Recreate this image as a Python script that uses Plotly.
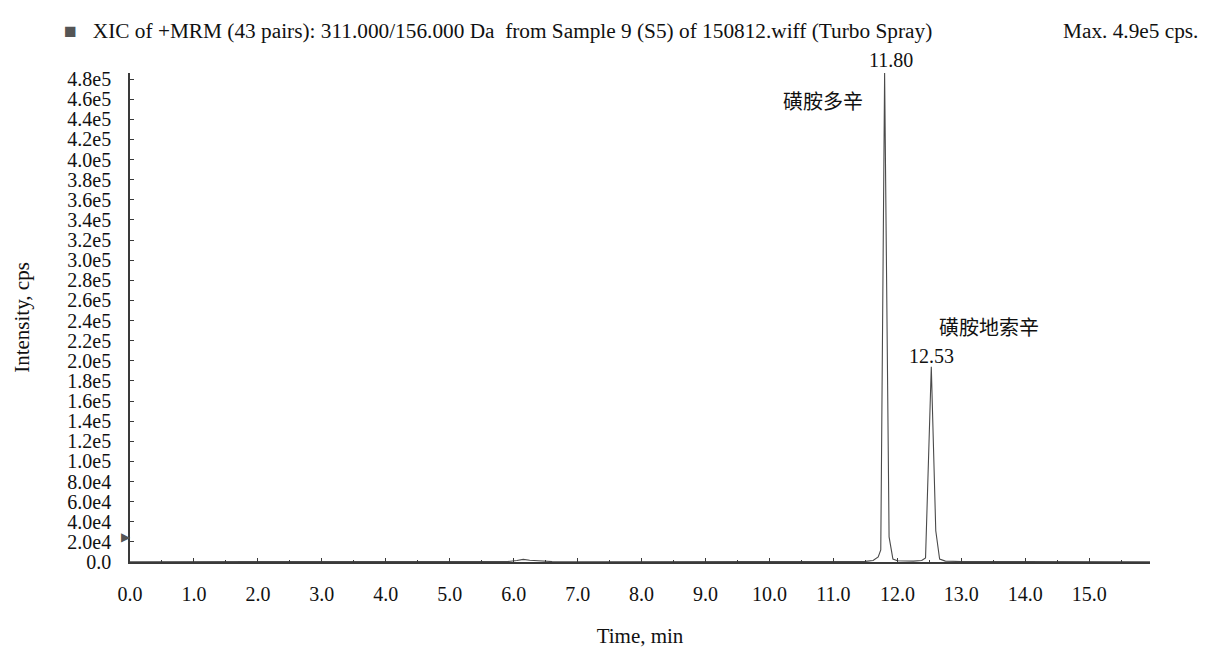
import plotly.graph_objects as go

# ---- data ----
time_min = [0.0, 1.0, 2.0, 3.0, 4.0, 5.0, 5.9, 6.05, 6.15, 6.25, 6.4, 6.6, 7.0, 8.0, 9.0, 10.0,
            11.0, 11.5, 11.62, 11.70, 11.74, 11.80, 11.87, 11.93, 12.00, 12.10, 12.25, 12.38,
            12.44, 12.53, 12.60, 12.66, 12.75, 13.0, 14.0, 15.0, 15.95]
intensity = [300, 300, 300, 300, 300, 300, 400, 1500, 2600, 1800, 900, 400, 300, 300, 300, 300,
             400, 600, 1500, 5000, 12000, 486000, 25000, 3000, 1200, 900, 900, 1500,
             4000, 194000, 31000, 3000, 900, 400, 300, 300, 300]

peak_times = [11.80, 12.53]
peak_heights = [486000, 194000]
peak_labels = ["11.80", "12.53"]
compound_names = ["磺胺多辛", "磺胺地索辛"]
threshold = 25000

y_tickvals = [i * 20000 for i in range(25)]
y_ticktext = ["0.0"] + ["%.1fe4" % (v / 1e4) for v in y_tickvals[1:5]] + \
             ["%.1fe5" % (v / 1e5) for v in y_tickvals[5:]]
x_tickvals = [float(i) for i in range(16)]
x_ticktext = ["%.1f" % v for v in x_tickvals]

title_text = "XIC of +MRM (43 pairs): 311.000/156.000 Da&nbsp;&nbsp;from Sample 9 (S5) of 150812.wiff (Turbo Spray)"
max_text = "Max. 4.9e5 cps."

SERIF = "Liberation Serif, Times New Roman, serif"
CJK = "Noto Sans CJK SC"
axis_col = "#3a3a3a"

fig = go.Figure()
fig.add_trace(go.Scatter(x=time_min, y=intensity, mode="lines",
                         line=dict(color="#4a4a4a", width=1.1), showlegend=False,
                         hoverinfo="skip"))

annotations = []
# threshold marker on the y axis
annotations.append(dict(x=0, y=threshold, text="▶", showarrow=False, xanchor="right",
                        yanchor="middle", xshift=3,
                        font=dict(family="DejaVu Sans", size=12, color="#555555")))
# peak RT labels
annotations.append(dict(x=peak_times[0], y=peak_heights[0], text=peak_labels[0], showarrow=False,
                        xanchor="center", yanchor="bottom", xshift=6, yshift=0,
                        font=dict(family=SERIF, size=20, color="#111")))
annotations.append(dict(x=peak_times[1], y=peak_heights[1], text=peak_labels[1], showarrow=False,
                        xanchor="center", yanchor="bottom", xshift=0, yshift=-2,
                        font=dict(family=SERIF, size=20, color="#111")))
# compound names
annotations.append(dict(x=peak_times[0], y=peak_heights[0], text=compound_names[0], showarrow=False,
                        xanchor="right", yanchor="middle", xshift=-20, yshift=-27,
                        font=dict(family=CJK, size=20, color="#111")))
annotations.append(dict(x=peak_times[1], y=peak_heights[1], text=compound_names[1], showarrow=False,
                        xanchor="left", yanchor="middle", xshift=6, yshift=40,
                        font=dict(family=CJK, size=20, color="#111")))
# header
annotations.append(dict(xref="paper", yref="paper", x=-0.067, y=1.0, yshift=42,
                        text="<span style='color:#555'>■</span>&nbsp;&nbsp;&nbsp;" + title_text,
                        showarrow=False, xanchor="left", yanchor="middle",
                        font=dict(family=SERIF, size=21.3, color="#111")))
annotations.append(dict(xref="paper", yref="paper", x=1.0, xshift=50, y=1.0, yshift=42,
                        text=max_text, showarrow=False, xanchor="right", yanchor="middle",
                        font=dict(family=SERIF, size=21.3, color="#111")))

fig.update_layout(
    width=1213, height=648,
    margin=dict(l=130, r=63, t=73, b=86),
    paper_bgcolor="white", plot_bgcolor="white",
    font=dict(family=SERIF, size=20, color="#111"),
    annotations=annotations,
    xaxis=dict(range=[0, 15.95], tickvals=x_tickvals, ticktext=x_ticktext,
               ticks="inside", ticklen=4, tickcolor=axis_col, tickwidth=1,
               minor=dict(dtick=0.5, tick0=0, ticks="inside", ticklen=2, tickcolor=axis_col),
               showline=True, linecolor=axis_col, linewidth=2, showgrid=False, zeroline=False,
               ticklabelstandoff=13, automargin=False,
               title=dict(text="Time, min", standoff=28, font=dict(family=SERIF, size=21)),
               tickfont=dict(family=SERIF, size=20)),
    yaxis=dict(range=[0, 486000], tickvals=y_tickvals, ticktext=y_ticktext,
               ticks="inside", ticklen=4, tickcolor=axis_col, tickwidth=1,
               showline=True, linecolor=axis_col, linewidth=1.5, showgrid=False, zeroline=False,
               ticklabelstandoff=13, automargin=False,
               title=dict(text="Intensity, cps", standoff=32, font=dict(family=SERIF, size=21)),
               tickfont=dict(family=SERIF, size=20)),
)

fig.write_html("out.html")
